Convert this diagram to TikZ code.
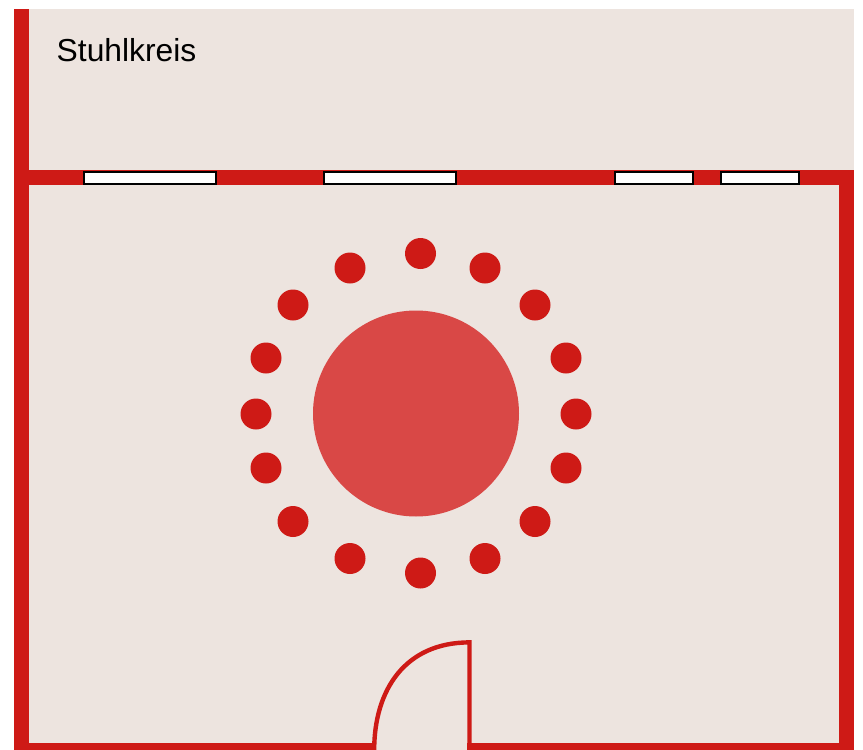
\documentclass[tikz,border=0pt]{standalone}
\usepackage{fontspec}
\setmainfont{Liberation Sans}
\definecolor{wallred}{HTML}{CE1A16}
\definecolor{floorbeige}{HTML}{EDE4DF}
\definecolor{tablered}{HTML}{D94846}
\tikzset{
  wall/.style={fill=wallred,draw=none},
  windowpane/.style={fill=white,draw=black,line width=2pt},
  chair/.style={fill=wallred,draw=none},
  doorline/.style={draw=wallred,line width=4.4pt,line join=miter}
}
\begin{document}
\begin{tikzpicture}[x=1pt,y=-1pt]
\useasboundingbox (0,0) rectangle (863,750);
\clip (0,0) rectangle (863,750);
% floor
\fill[floorbeige] (14,9) rectangle (854,750);
% walls
\fill[wall] (14,9) rectangle (29,750);
\fill[wall] (14,170) rectangle (854,185);
\fill[wall] (839,170) rectangle (854,750);
\fill[wall] (14,743) rectangle (854,750);
% door opening
\fill[floorbeige] (376,743) rectangle (467,750);
% door
\draw[doorline] (374.2,750) .. controls (374.2,690) and (405,642.4) .. (469.5,642.4) -- (469.5,750);
% windows
\draw[windowpane] (84.4,171.8) rectangle (215.6,184);
\draw[windowpane] (324.4,171.8) rectangle (455.6,184);
\draw[windowpane] (615.4,171.8) rectangle (693.2,184);
\draw[windowpane] (721.4,171.8) rectangle (799.2,184);
% table
\fill[tablered] (416,413.5) circle[radius=103];
% chairs
\foreach \cx/\cy in {420.5/253.5,485/268,535/305,566/358,576/414,566/468,535/521.5,485/558.5,420.5/573,350/558.5,293/521.5,266/468,256/414,266/358,293/305,350/268}
  \fill[chair] (\cx,\cy) circle[radius=15.5];
% label
\node[anchor=base west,inner sep=0pt,text=black] (label) at (56.5,61.5) {\fontsize{31.8}{36}\selectfont Stuhlkreis};
\end{tikzpicture}
\end{document}
